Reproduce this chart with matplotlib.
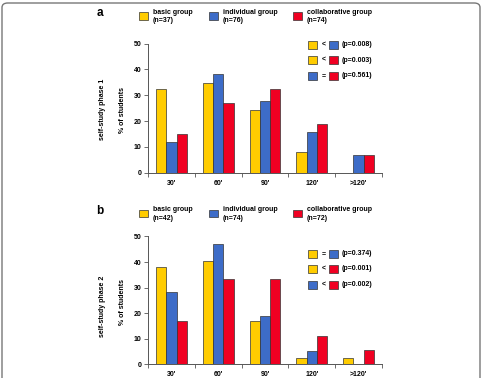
import matplotlib
matplotlib.use("Agg")
import matplotlib.pyplot as plt
from matplotlib.patches import Rectangle, FancyBboxPatch
import numpy as np

plt.rcParams['font.family'] = ['Liberation Sans', 'DejaVu Sans']
plt.rcParams['font.weight'] = 'bold'

categories = ["30'", "60'", "90'", "120'", ">120'"]
groups = ["basic group", "individual group", "collaborative group"]
colors = ["#FFCC00", "#3D6CC8", "#F00022"]

n_phase1 = ["(n=37)", "(n=76)", "(n=74)"]
n_phase2 = ["(n=42)", "(n=74)", "(n=72)"]

phase1_basic = [32.2, 34.9, 24.2, 8.1, 0.0]
phase1_individual = [11.8, 38.2, 27.6, 15.7, 6.7]
phase1_collab = [14.9, 26.9, 32.3, 18.8, 6.8]

phase2_basic = [37.9, 40.5, 16.9, 2.4, 2.4]
phase2_individual = [28.3, 47.2, 18.8, 5.3, 0.0]
phase2_collab = [16.8, 33.3, 33.3, 11.0, 5.6]

# comparisons: (left group idx, sign, right group idx, p text)
comp1 = [(0, "<", 1, "(p=0.008)"), (0, "<", 2, "(p=0.003)"), (1, "=", 2, "(p=0.561)")]
comp2 = [(0, "=", 1, "(p=0.374)"), (0, "<", 2, "(p=0.001)"), (1, "<", 2, "(p=0.002)")]

ylabels = ["self-study phase 1", "self-study phase 2"]
panel_letters = ["a", "b"]
yticks = [0, 10, 20, 30, 40, 50]

W, H = 482, 378
fig = plt.figure(figsize=(W / 100, H / 100), dpi=100)

# rounded frame
frame = FancyBboxPatch((2 / W, -0.1), (W - 4) / W, 1.1 - 3 / H,
                       boxstyle="round,pad=0,rounding_size=0.012",
                       transform=fig.transFigure, facecolor="none",
                       edgecolor="#777777", linewidth=1.0)
fig.patches.append(frame)

def px(x, y):
    return x / W, 1 - y / H

panels = [
    dict(data=[phase1_basic, phase1_individual, phase1_collab], n=n_phase1, comp=comp1,
         ax_top=43.5, ax_bot=172.7, leg_y=12.5, comp_y=[44.5, 60, 75.5], lab_dy=1),
    dict(data=[phase2_basic, phase2_individual, phase2_collab], n=n_phase2, comp=comp2,
         ax_top=236.5, ax_bot=364.2, leg_y=210, comp_y=[253.5, 269, 285], lab_dy=6),
]

fs = 5.0
x = np.arange(len(categories))
bw = 0.218

for i, p in enumerate(panels):
    left, right = 148, 382
    ax = fig.add_axes([left / W, 1 - p['ax_bot'] / H, (right - left) / W, (p['ax_bot'] - p['ax_top']) / H])
    for g in range(3):
        ax.bar(x + (g - 1) * bw, p['data'][g], width=bw, color=colors[g],
               edgecolor="#333333", linewidth=0.5, zorder=3)
    ax.set_xlim(-0.5, 4.5)
    ax.set_ylim(0, 50)
    ax.set_yticks(yticks)
    ax.set_yticklabels([str(v) for v in yticks], fontsize=fs, fontweight='bold')
    ax.set_xticks(x)
    ax.set_xticklabels(categories, fontsize=fs, fontweight='bold')
    ax.set_xticks(np.arange(-0.5, 5.0, 1.0), minor=True)
    ax.tick_params(axis='x', which='major', length=0, pad=5)
    ax.tick_params(axis='x', which='minor', length=3, width=0.6, color="#555555")
    ax.tick_params(axis='y', length=3, width=0.6, color="#555555", pad=1.5)
    for s in ['top', 'right']:
        ax.spines[s].set_visible(False)
    for s in ['left', 'bottom']:
        ax.spines[s].set_color("#555555")
        ax.spines[s].set_linewidth(0.7)
    cy = (p['ax_top'] + p['ax_bot']) / 2
    fig.text(*px(122, cy + 2), "% of students", rotation=90, fontsize=fs, fontweight='bold',
             ha='center', va='center')
    fig.text(*px(102, cy + p['lab_dy']), ylabels[i], rotation=90, fontsize=fs, fontweight='bold',
             ha='center', va='center')

    # panel letter
    fig.text(*px(100, p['leg_y'] + 1), panel_letters[i], fontsize=8.5, fontweight='bold',
             ha='center', va='center')

    # top legend
    sq_x = [139, 209, 293]
    for g in range(3):
        fig.patches.append(Rectangle(px(sq_x[g], p['leg_y'] + 7.5), 9 / W, 7.5 / H,
                                     transform=fig.transFigure, facecolor=colors[g],
                                     edgecolor="#333333", linewidth=0.5))
        fig.text(*px(sq_x[g] + 14, p['leg_y'] - 0.5), groups[g], fontsize=fs, fontweight='bold',
                 ha='left', va='center')
        fig.text(*px(sq_x[g] + 14, p['leg_y'] + 8), p['n'][g], fontsize=fs, fontweight='bold',
                 ha='left', va='center')

    # comparison legend
    for r, (a, sign, b, ptxt) in enumerate(p['comp']):
        yc = p['comp_y'][r]
        fig.patches.append(Rectangle(px(308, yc + 4), 9 / W, 8 / H, transform=fig.transFigure,
                                     facecolor=colors[a], edgecolor="#333333", linewidth=0.5))
        fig.text(*px(323.5, yc), sign, fontsize=fs, fontweight='bold', ha='center', va='center')
        fig.patches.append(Rectangle(px(329, yc + 4), 9 / W, 8 / H, transform=fig.transFigure,
                                     facecolor=colors[b], edgecolor="#333333", linewidth=0.5))
        fig.text(*px(342, yc), ptxt, fontsize=fs, fontweight='bold', ha='left', va='center')

fig.savefig("out.png", dpi=100)
